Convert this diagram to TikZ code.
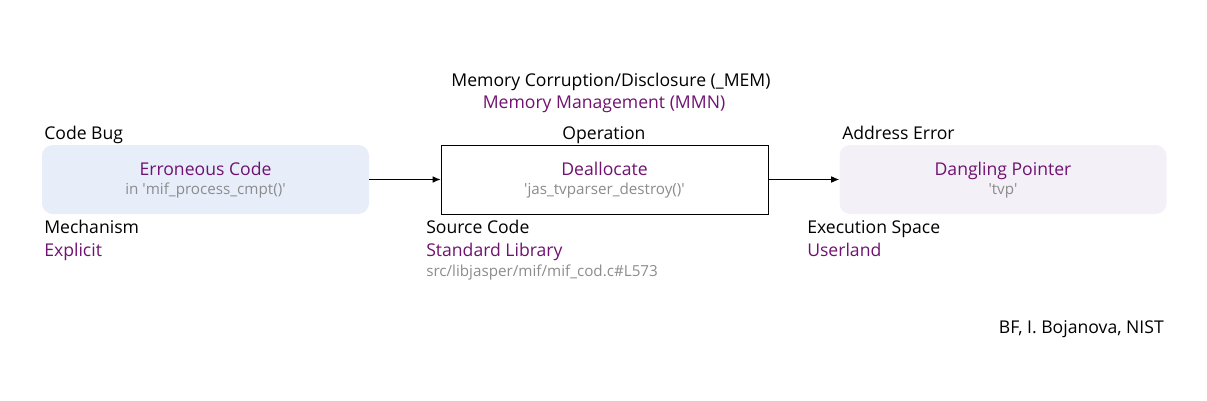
\documentclass[tikz,border=0pt]{standalone}
\usepackage{fontspec}
\setmainfont{Open Sans}
\usepackage{xcolor}
\usetikzlibrary{arrows.meta,positioning}
\definecolor{bfpurple}{RGB}{112,18,112}
\definecolor{bfgray}{RGB}{140,140,140}
\definecolor{bugfill}{RGB}{231,238,250}
\definecolor{errfill}{RGB}{243,240,248}
\newcommand{\sq}{\textquotesingle}

\begin{document}
\begin{tikzpicture}[x=0.75pt,y=-0.75pt]
  \tikzset{cls/.style = {shape=rectangle,minimum width=327*0.75pt,minimum height=69*0.75pt,inner sep=0pt,align=center}}
  \tikzset{bugcls/.style = {cls,rounded corners=8pt,fill=bugfill}}
  \tikzset{opcls/.style = {cls,draw=black,line width=0.6pt,fill=white}}
  \tikzset{errcls/.style = {cls,rounded corners=8pt,fill=errfill}}
  \tikzset{lbl/.style = {inner sep=0pt,anchor=base,font=\fontsize{13.2}{15}\selectfont,text=black}}
  \tikzset{val/.style = {lbl,text=bfpurple}}
  \tikzset{note/.style = {inner sep=0pt,anchor=base,font=\fontsize{11.4}{14}\selectfont,text=bfgray}}
  \tikzset{edge/.style = {-{Latex[length=6pt,width=5pt]},line width=0.7pt}}

  \useasboundingbox (0,0) rectangle (1207,400);

  % class and bugs type
  \node[lbl] (class) at (611,86) {Memory Corruption/Disclosure (\_MEM)};
  \node[val] (type) at (604,108) {Memory Management (MMN)};

  % cause, operation, consequence
  \node[bugcls] (bug) at (205.5,179.5) {};
  \node[val] (bugT) at (205.5,175) {Erroneous Code};
  \node[note] (bugS) at (205.5,194) {in \sq mif\_process\_cmpt()\sq};

  \node[opcls] (op) at (604.5,179.5) {};
  \node[val] (opT) at (604.5,175) {Deallocate};
  \node[note] (opS) at (604.5,194) {\sq jas\_tvparser\_destroy()\sq};

  \node[errcls] (err) at (1003,179.5) {};
  \node[val] (errT) at (1003,175) {Dangling Pointer};
  \node[note] (errS) at (1003,194) {\sq tvp\sq};

  % headers
  \node[lbl,anchor=base west] (bugH) at (44,139) {Code Bug};
  \node[lbl] (opH) at (604,139) {Operation};
  \node[lbl,anchor=base west] (errH) at (842,139) {Address Error};

  % attributes
  \node[lbl,anchor=base west] (mechH) at (44,233) {Mechanism};
  \node[val,anchor=base west] (mech) at (44,256) {Explicit};

  \node[lbl,anchor=base west] (srcH) at (426,233) {Source Code};
  \node[val,anchor=base west] (src) at (426,256) {Standard Library};
  \node[note,anchor=base west] (file) at (426,276) {src/libjasper/mif/mif\_cod.c\#L573};

  \node[lbl,anchor=base west] (spaceH) at (807,233) {Execution Space};
  \node[val,anchor=base west] (space) at (807,256) {Userland};

  \node[lbl,anchor=base east] (credit) at (1164,333) {BF, I. Bojanova, NIST};

  \foreach \from/\to in {bug/op,op/err}
    \draw[edge] (\from) -- (\to);

\end{tikzpicture}
\end{document}
